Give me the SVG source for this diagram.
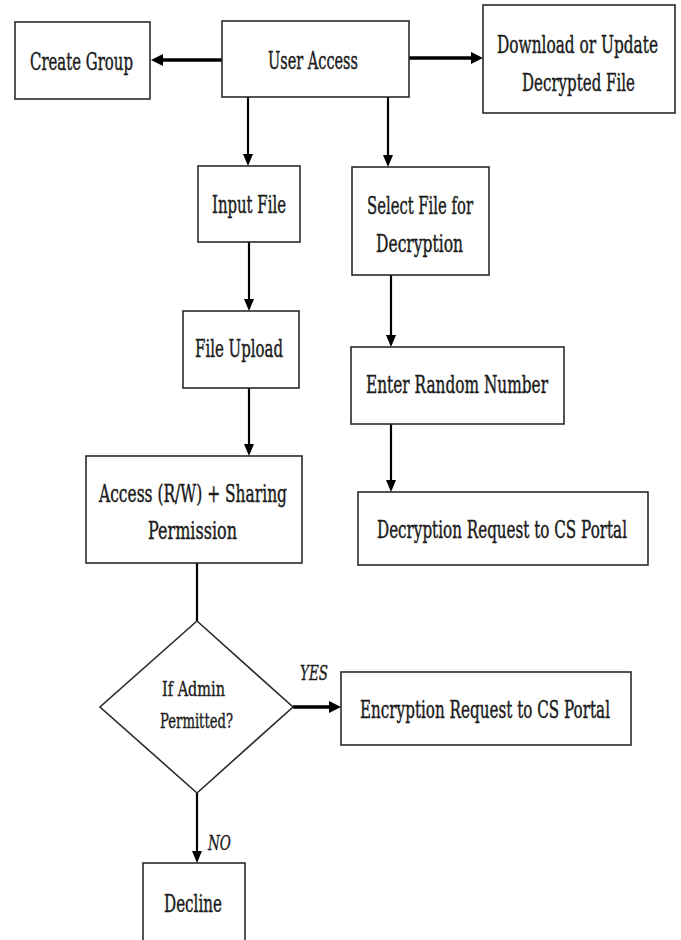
<svg xmlns="http://www.w3.org/2000/svg" width="681" height="940" viewBox="0 0 681 940">
<style>
.box{fill:#fff;stroke:#2a2a2a;stroke-width:1.6}
.t{font-family:"DejaVu Serif","Liberation Serif",serif;font-size:16.5px;fill:#1a1a1a;stroke:#1a1a1a;stroke-width:0.3}
.s{font-family:"DejaVu Serif","Liberation Serif",serif;font-size:13.5px;fill:#1a1a1a;stroke:#1a1a1a;stroke-width:0.25}
.i{font-family:"DejaVu Serif","Liberation Serif",serif;font-size:15px;font-style:italic;fill:#1a1a1a;stroke:#1a1a1a;stroke-width:0.25}
.c{fill:none;stroke:#000;stroke-width:2.2}
.ck{fill:none;stroke:#000;stroke-width:3.6}
</style>
<defs>
<marker id="ah" markerUnits="userSpaceOnUse" markerWidth="12" markerHeight="10" refX="6" refY="5" orient="auto">
<path d="M0,0 L12,5 L0,10 z" fill="#000"/>
</marker>
<marker id="ahk" markerUnits="userSpaceOnUse" markerWidth="12" markerHeight="12" refX="6" refY="6" orient="auto">
<path d="M0,0 L12,6 L0,12 z" fill="#000"/>
</marker>
</defs>
<rect width="681" height="940" fill="#fff"/>
<g id="connectors">
<line class="ck" x1="222" y1="60" x2="157" y2="60" marker-end="url(#ahk)"/>
<line class="ck" x1="409" y1="58" x2="477" y2="58" marker-end="url(#ahk)"/>
<line class="c" x1="248" y1="97" x2="248" y2="160" marker-end="url(#ah)"/>
<line class="c" x1="388" y1="97" x2="388" y2="161" marker-end="url(#ah)"/>
<line class="c" x1="249" y1="242" x2="249" y2="305" marker-end="url(#ah)"/>
<line class="c" x1="391" y1="275" x2="391" y2="341" marker-end="url(#ah)"/>
<line class="c" x1="249" y1="388" x2="249" y2="450" marker-end="url(#ah)"/>
<line class="c" x1="391" y1="424" x2="391" y2="486" marker-end="url(#ah)"/>
<line class="c" x1="197" y1="563" x2="197" y2="621"/>
<line class="ck" x1="293" y1="707" x2="335" y2="707" marker-end="url(#ahk)"/>
<line class="c" x1="197" y1="793" x2="197" y2="857" marker-end="url(#ah)"/>
<text class="i" transform="translate(300,680) scale(1,1.4)" textLength="28" lengthAdjust="spacingAndGlyphs">YES</text>
<text class="i" transform="translate(208,850) scale(1,1.4)" textLength="23" lengthAdjust="spacingAndGlyphs">NO</text>
</g>
<g id="create-group">
<rect class="box" x="15" y="22" width="135" height="77"/>
<text class="t" transform="translate(30,70) scale(1,1.45)" textLength="103" lengthAdjust="spacingAndGlyphs">Create Group</text>
</g>
<g id="user-access">
<rect class="box" x="222" y="21" width="187" height="76"/>
<text class="t" transform="translate(268,69) scale(1,1.45)" textLength="90" lengthAdjust="spacingAndGlyphs">User Access</text>
</g>
<g id="download">
<rect class="box" x="483" y="5" width="192" height="108"/>
<text class="t" transform="translate(497,53) scale(1,1.45)" textLength="161" lengthAdjust="spacingAndGlyphs">Download or Update</text>
<text class="t" transform="translate(522,91) scale(1,1.45)" textLength="113" lengthAdjust="spacingAndGlyphs">Decrypted File</text>
</g>
<g id="input-file">
<rect class="box" x="198" y="166" width="102" height="76"/>
<text class="t" transform="translate(212,213) scale(1,1.45)" textLength="74" lengthAdjust="spacingAndGlyphs">Input File</text>
</g>
<g id="select-file">
<rect class="box" x="352" y="167" width="137" height="108"/>
<text class="t" transform="translate(367,214) scale(1,1.45)" textLength="106" lengthAdjust="spacingAndGlyphs">Select File for</text>
<text class="t" transform="translate(376,252) scale(1,1.45)" textLength="87" lengthAdjust="spacingAndGlyphs">Decryption</text>
</g>
<g id="file-upload">
<rect class="box" x="183" y="311" width="116" height="77"/>
<text class="t" transform="translate(195,357) scale(1,1.45)" textLength="88" lengthAdjust="spacingAndGlyphs">File Upload</text>
</g>
<g id="enter-random">
<rect class="box" x="351" y="347" width="213" height="77"/>
<text class="t" transform="translate(366,393) scale(1,1.45)" textLength="182" lengthAdjust="spacingAndGlyphs">Enter Random Number</text>
</g>
<g id="access">
<rect class="box" x="86" y="456" width="216" height="107"/>
<text class="t" transform="translate(99,502) scale(1,1.45)" textLength="188" lengthAdjust="spacingAndGlyphs">Access (R/W) + Sharing</text>
<text class="t" transform="translate(148,539) scale(1,1.45)" textLength="89" lengthAdjust="spacingAndGlyphs">Permission</text>
</g>
<g id="decryption-request">
<rect class="box" x="358" y="492" width="290" height="73"/>
<text class="t" transform="translate(377,538) scale(1,1.45)" textLength="250" lengthAdjust="spacingAndGlyphs">Decryption Request to CS Portal</text>
</g>
<g id="admin-decision">
<polygon class="box" points="197,621 293,707 197,793 100,707"/>
<text class="s" transform="translate(162,696) scale(1,1.5)" textLength="63" lengthAdjust="spacingAndGlyphs">If Admin</text>
<text class="s" transform="translate(160,728) scale(1,1.5)" textLength="73" lengthAdjust="spacingAndGlyphs">Permitted?</text>
</g>
<g id="encryption-request">
<rect class="box" x="341" y="672" width="290" height="73"/>
<text class="t" transform="translate(360,718) scale(1,1.45)" textLength="250" lengthAdjust="spacingAndGlyphs">Encryption Request to CS Portal</text>
</g>
<g id="decline">
<rect class="box" x="143" y="863" width="102" height="90"/>
<text class="t" transform="translate(164,912) scale(1,1.45)" textLength="58" lengthAdjust="spacingAndGlyphs">Decline</text>
</g>
</svg>
